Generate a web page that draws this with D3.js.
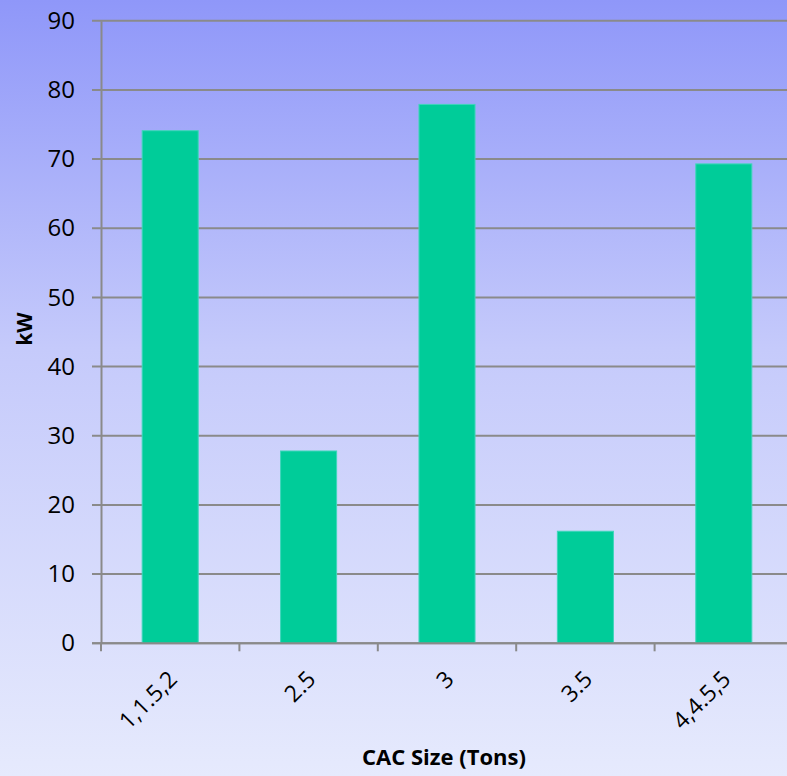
<!DOCTYPE html>
<html>
<head>
<meta charset="utf-8">
<script src="https://cdn.jsdelivr.net/npm/d3@7"></script>
<style>
  html, body { margin: 0; padding: 0; overflow: hidden; }
  svg { display: block; }
</style>
</head>
<body>
<svg id="chart" width="787" height="776"></svg>
<script>
// CAC sizes and their kW demand
const categories = ["1,1.5,2", "2.5", "3", "3.5", "4,4.5,5"];
const kwValues = [74.1, 27.8, 77.9, 16.2, 69.3];
const yTicks = [0, 10, 20, 30, 40, 50, 60, 70, 80, 90];

const W = 787, H = 776;
const margin = { left: 101, top: 20.7, bottom: 776 - 643.3 };
const plotRight = 793; // plot area runs slightly past the right edge

const svg = d3.select("#chart");
const fontFam = "'Open Sans', 'DejaVu Sans', sans-serif";

// background gradient
const defs = svg.append("defs");
const grad = defs.append("linearGradient")
  .attr("id", "bg").attr("x1", 0).attr("y1", 0).attr("x2", 0).attr("y2", 1);
grad.append("stop").attr("offset", "0%").attr("stop-color", "#8f97f9");
grad.append("stop").attr("offset", "45%").attr("stop-color", "#c5cafb");
grad.append("stop").attr("offset", "100%").attr("stop-color", "#e6eafd");
svg.append("rect").attr("width", W).attr("height", H).attr("fill", "url(#bg)");

const x = d3.scaleBand()
  .domain(categories)
  .range([margin.left, plotRight])
  .paddingInner(0.595)
  .paddingOuter(0.2975);

const y = d3.scaleLinear()
  .domain([0, 90])
  .range([H - margin.bottom, margin.top]);

// horizontal gridlines
svg.append("g")
  .selectAll("line")
  .data(yTicks)
  .join("line")
  .attr("x1", margin.left - 9)
  .attr("x2", plotRight)
  .attr("y1", d => y(d))
  .attr("y2", d => y(d))
  .attr("stroke", "#8a8a8a")
  .attr("stroke-width", 2);

// bars
svg.append("g")
  .selectAll("rect")
  .data(categories.map((c, i) => ({ c, v: kwValues[i] })))
  .join("rect")
  .attr("x", d => x(d.c))
  .attr("y", d => y(d.v))
  .attr("width", x.bandwidth())
  .attr("height", d => y(0) - y(d.v))
  .attr("fill", "#00cc99")
  .attr("stroke", "#3fd6bb")
  .attr("stroke-width", 1);

// y axis
const yAxis = svg.append("g")
  .attr("transform", `translate(${margin.left},0)`)
  .call(d3.axisLeft(y).tickValues(yTicks).tickSize(0).tickPadding(26));
yAxis.select(".domain").attr("stroke", "#8a8a8a").attr("stroke-width", 2);
yAxis.selectAll("text")
  .attr("font-family", fontFam)
  .attr("font-size", 24)
  .attr("fill", "#000");

// x axis
const bandStep = x.step();
const xTickPos = categories.map((c, i) => margin.left + i * bandStep);
const xAxisG = svg.append("g");
xAxisG.append("line")
  .attr("x1", margin.left - 9).attr("x2", plotRight)
  .attr("y1", y(0)).attr("y2", y(0))
  .attr("stroke", "#8a8a8a").attr("stroke-width", 2);
xAxisG.selectAll("line.tick")
  .data(xTickPos)
  .join("line")
  .attr("class", "tick")
  .attr("x1", d => d).attr("x2", d => d)
  .attr("y1", y(0)).attr("y2", y(0) + 8)
  .attr("stroke", "#8a8a8a").attr("stroke-width", 2);

xAxisG.selectAll("text")
  .data(categories)
  .join("text")
  .attr("transform", d => `translate(${x(d) + x.bandwidth() / 2 + 4},${y(0) + 33}) rotate(-45)`)
  .attr("text-anchor", "end")
  .attr("dominant-baseline", "middle")
  .attr("font-family", fontFam)
  .attr("font-size", 23)
  .attr("fill", "#000")
  .text(d => d);

// axis titles
svg.append("text")
  .attr("x", 444)
  .attr("y", 765)
  .attr("text-anchor", "middle")
  .attr("font-family", fontFam)
  .attr("font-weight", "bold")
  .attr("font-size", 22)
  .text("CAC Size (Tons)");

svg.append("text")
  .attr("transform", `translate(32,${329}) rotate(-90)`)
  .attr("text-anchor", "middle")
  .attr("font-family", fontFam)
  .attr("font-weight", "bold")
  .attr("font-size", 21)
  .text("kW");
</script>
</body>
</html>
